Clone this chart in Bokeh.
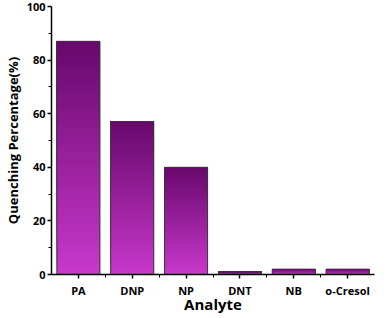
from bokeh.plotting import figure
from bokeh.models import FixedTicker, Range1d
from bokeh.embed import file_html
from bokeh.resources import INLINE

categories = ["PA", "DNP", "NP", "DNT", "NB", "o-Cresol"]
values = [87, 57, 40, 1, 2, 2]
y_ticks = [0, 20, 40, 60, 80, 100]

top_rgb = (0x68, 0x08, 0x6c)
bot_rgb = (0xc8, 0x38, 0xcc)
N = 60
BW = 0.8

xs = list(range(1, len(categories) + 1))

l, r, b, t, c = [], [], [], [], []
for x, v in zip(xs, values):
    for k in range(N):
        f = (k + 0.5) / N
        col = tuple(int(round(bot_rgb[j] + (top_rgb[j] - bot_rgb[j]) * f)) for j in range(3))
        l.append(x - BW / 2)
        r.append(x + BW / 2)
        b.append(v * k / N)
        t.append(v)
        c.append("#%02x%02x%02x" % col)

p = figure(width=376, height=316, output_backend="svg", toolbar_location=None,
           x_range=Range1d(0.5, len(categories) + 0.5), y_range=Range1d(0, 100),
           min_border_left=6, min_border_right=2, min_border_top=6, min_border_bottom=4)

p.quad(left=l, right=r, bottom=b, top=t, fill_color=c, line_color=None)
p.vbar(x=xs, top=values, width=BW, fill_color=None, line_color="#3a3a3a", line_width=1)

p.xgrid.visible = False
p.ygrid.visible = False
p.outline_line_color = None

p.xaxis.ticker = FixedTicker(ticks=xs, minor_ticks=[x + 0.5 for x in xs[:-1]])
p.xaxis.major_label_overrides = {x: cat for x, cat in zip(xs, categories)}
p.yaxis.ticker = FixedTicker(ticks=y_ticks, minor_ticks=[v + 10 for v in y_ticks[:-1]])

for ax in (p.xaxis[0], p.yaxis[0]):
    ax.axis_line_color = "black"
    ax.axis_line_width = 1.5
    ax.major_tick_line_color = "black"
    ax.major_tick_line_width = 1.5
    ax.minor_tick_line_color = "black"
    ax.major_tick_in = 0
    ax.major_tick_out = 4
    ax.minor_tick_in = 0
    ax.minor_tick_out = 3
    ax.major_label_text_font = "Open Sans"
    ax.major_label_text_font_style = "bold"
    ax.major_label_text_font_size = "11px"
    ax.major_label_text_color = "black"
    ax.axis_label_text_font = "Open Sans"
    ax.axis_label_text_font_style = "bold"
    ax.axis_label_text_color = "black"

p.xaxis.axis_label = "Analyte"
p.xaxis.axis_label_text_font_size = "15px"
p.xaxis.axis_label_standoff = -7
p.xaxis.major_label_standoff = 4
p.yaxis.axis_label = "Quenching Percentage(%)"
p.yaxis.axis_label_text_font_size = "13px"
p.yaxis.axis_label_standoff = 2
p.yaxis.major_label_standoff = 2

open("out.html", "w").write(file_html(p, INLINE))
